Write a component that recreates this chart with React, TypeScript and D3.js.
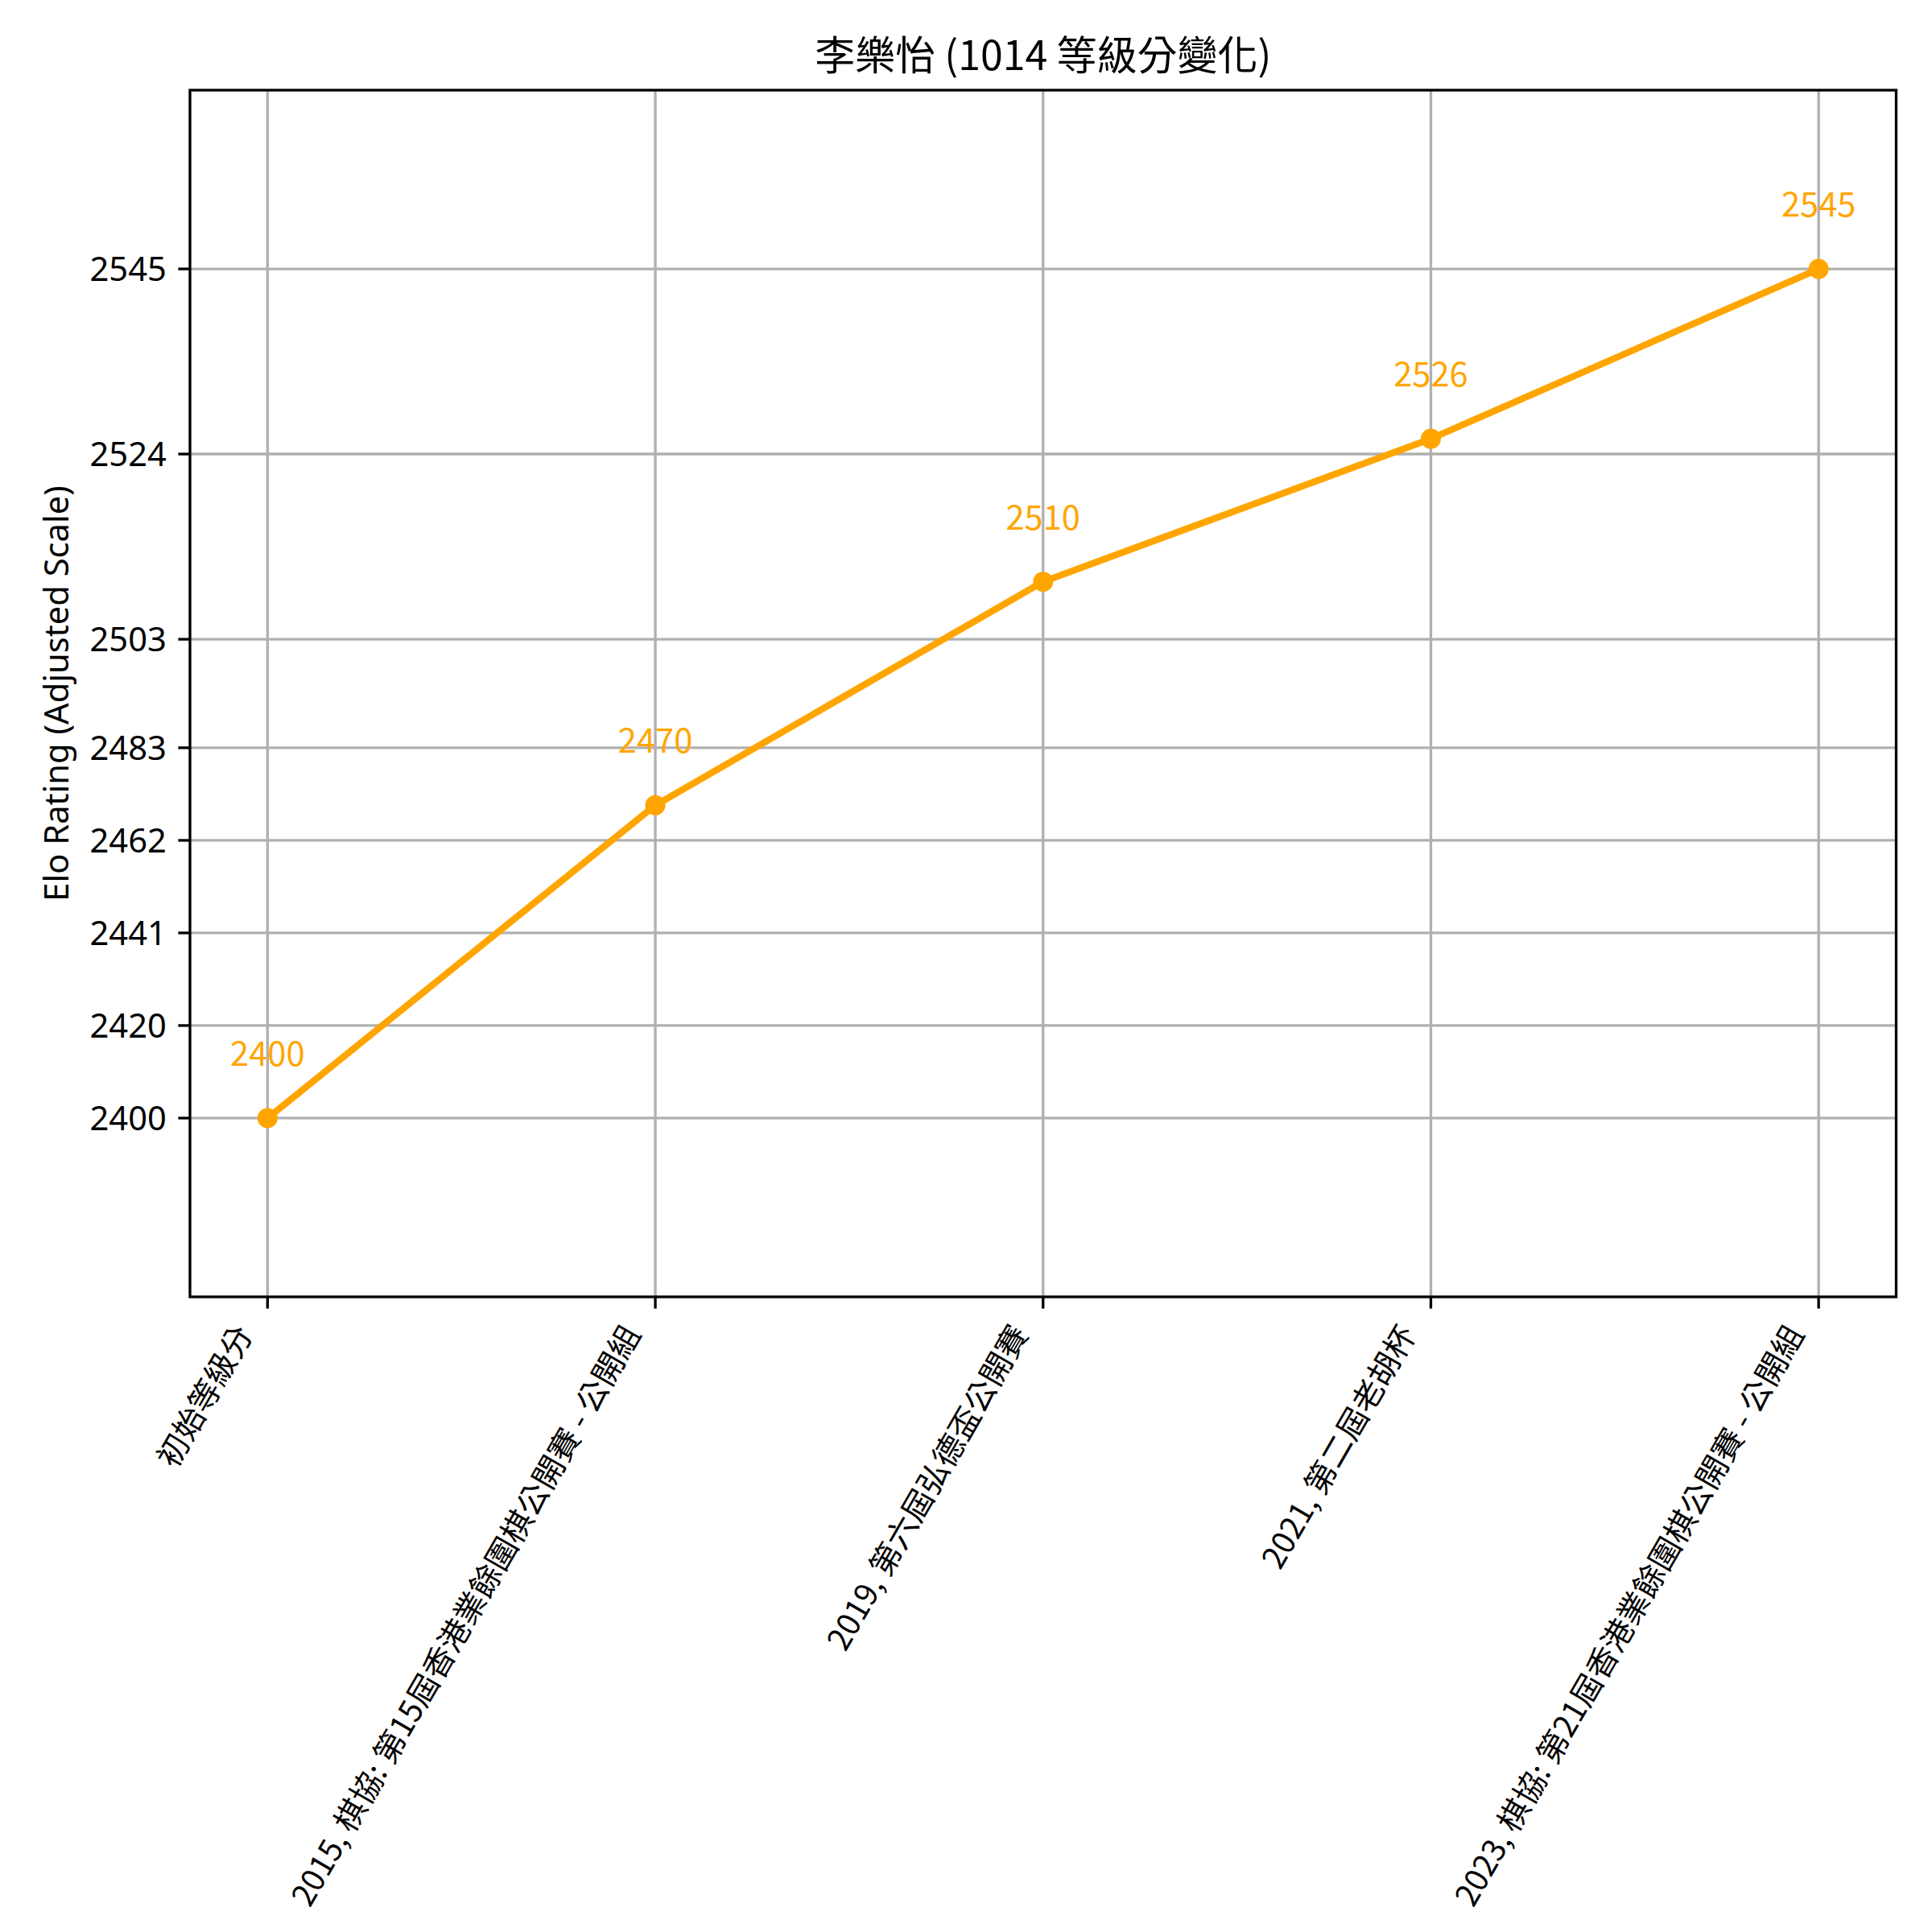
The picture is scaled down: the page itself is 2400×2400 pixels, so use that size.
import React from "react";
import * as d3 from "d3";

// Rating history of one player, one entry per event
const categories = [
  "初始等級分",
  "2015, 棋協: 第15屆香港業餘圍棋公開賽 - 公開組",
  "2019, 第六屆弘德盃公開賽",
  "2021, 第二屆老胡杯",
  "2023, 棋協: 第21屆香港業餘圍棋公開賽 - 公開組",
];
const ratings = [2400, 2470, 2510, 2526, 2545];

// Y ticks (raw rating values) and their printed labels
const yTickValues = [2400, 2420.71, 2441.43, 2462.14, 2482.86, 2503.57, 2524.29, 2545];
const yTickLabels = ["2400", "2420", "2441", "2462", "2483", "2503", "2524", "2545"];

const titleText = "李樂怡 (1014 等級分變化)";
const yLabelText = "Elo Rating (Adjusted Scale)";

// Ratings above the pivot are stretched so small gains at the top stay visible
const PIVOT = 2500;
const STRETCH = 2;
const adjust = (v: number) => (v <= PIVOT ? v : PIVOT + (v - PIVOT) * STRETCH);

const W = 2400;
const H = 2400;
const M = { left: 236, right: 2355.5, top: 112, bottom: 1611 };
const PT = 300 / 72;
const ORANGE = "#FFA500";
const CJK = "'Noto Sans CJK TC', 'Noto Sans', sans-serif";

export default function App() {
  const x = d3
    .scaleLinear()
    .domain([-0.2, categories.length - 1 + 0.2])
    .range([M.left, M.right]);

  const adjMin = adjust(d3.min(ratings)!);
  const adjMax = adjust(d3.max(ratings)!);
  const y = d3
    .scaleLinear()
    .domain([adjMin - 40, adjMax + 40])
    .range([M.bottom, M.top]);

  const line = d3
    .line<number>()
    .x((_, i) => x(i))
    .y((d) => y(adjust(d)));

  const tickLen = 3.5 * PT;
  const tickPad = 3.5 * PT;
  const axisW = 0.8 * PT;
  const fs = 10 * PT;
  const xfs = 39;

  return (
    <svg
      width={W}
      height={H}
      viewBox={`0 0 ${W} ${H}`}
      style={{ position: "absolute", left: 0, top: 0, background: "#fff" }}
    >
      <rect x={0} y={0} width={W} height={H} fill="#fff" />

      {/* grid */}
      <g stroke="#b0b0b0" strokeWidth={axisW}>
        {categories.map((_, i) => (
          <line key={"gx" + i} x1={x(i)} x2={x(i)} y1={M.top} y2={M.bottom} />
        ))}
        {yTickValues.map((t, i) => (
          <line key={"gy" + i} x1={M.left} x2={M.right} y1={y(adjust(t))} y2={y(adjust(t))} />
        ))}
      </g>

      {/* series line and markers */}
      <path
        d={line(ratings)!}
        fill="none"
        stroke={ORANGE}
        strokeWidth={2 * PT}
        strokeLinejoin="round"
        strokeLinecap="round"
      />
      {ratings.map((r, i) => (
        <circle key={"m" + i} cx={x(i)} cy={y(adjust(r))} r={3 * PT} fill={ORANGE} />
      ))}

      {/* value annotations */}
      {ratings.map((r, i) => (
        <text
          key={"a" + i}
          x={x(i)}
          y={y(adjust(r)) - 65}
          textAnchor="middle"
          fontFamily={CJK}
          fontSize={fs}
          fill={ORANGE}
        >
          {r}
        </text>
      ))}

      {/* frame */}
      <rect
        x={M.left}
        y={M.top}
        width={M.right - M.left}
        height={M.bottom - M.top}
        fill="none"
        stroke="#000"
        strokeWidth={axisW}
      />

      {/* y axis ticks */}
      {yTickValues.map((t, i) => {
        const ty = y(adjust(t));
        return (
          <g key={"yt" + i}>
            <line x1={M.left - tickLen} x2={M.left} y1={ty} y2={ty} stroke="#000" strokeWidth={axisW} />
            <text
              x={M.left - tickLen - tickPad}
              y={ty + 0.357 * fs}
              textAnchor="end"
              fontFamily="'Noto Sans', sans-serif"
              fontSize={fs}
              fill="#000"
            >
              {yTickLabels[i]}
            </text>
          </g>
        );
      })}

      {/* x axis ticks */}
      {categories.map((c, i) => {
        const tx = x(i);
        const ax = tx - 17;
        const ay = M.bottom + 46;
        return (
          <g key={"xt" + i}>
            <line x1={tx} x2={tx} y1={M.bottom} y2={M.bottom + tickLen} stroke="#000" strokeWidth={axisW} />
            <text
              transform={`translate(${ax},${ay}) rotate(-60)`}
              textAnchor="end"
              fontFamily={CJK}
              fontSize={xfs}
              fill="#000"
            >
              {c}
            </text>
          </g>
        );
      })}

      {/* y label */}
      <text
        transform={`translate(85,${(M.top + M.bottom) / 2}) rotate(-90)`}
        textAnchor="middle"
        fontFamily="'Noto Sans', sans-serif"
        fontSize={fs}
        fill="#000"
      >
        {yLabelText}
      </text>

      {/* title */}
      <text
        x={(M.left + M.right) / 2}
        y={M.top - 6 * PT}
        textAnchor="middle"
        fontFamily={CJK}
        fontSize={12 * PT}
        fill="#000"
      >
        {titleText}
      </text>
    </svg>
  );
}
